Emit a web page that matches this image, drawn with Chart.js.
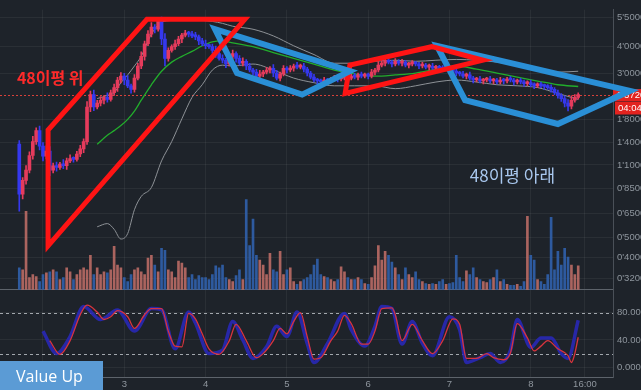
<!DOCTYPE html>
<html>
<head>
<meta charset="utf-8">
<title>48 MA chart</title>
<script src="https://cdn.jsdelivr.net/npm/chart.js"></script>
<style>
  html, body { margin: 0; padding: 0; background: #1e232a; }
  #wrap { width: 641px; height: 390px; }
</style>
</head>
<body>
<div id="wrap"><canvas id="chart" width="641" height="390"></canvas></div>
<script>
// hourly candles, index 0 = day 1 17:00
const xTickIdx = [7, 31, 55, 79, 103, 127, 151, 167];
const xTickLabels = ['2', '3', '4', '5', '6', '7', '8', '16:00'];
const xRange = [-5.69, 175.27];

const firstOpen = 1.38;
const closes = [
  0.80, 0.93, 1.04, 1.22, 1.42, 1.60, 1.35, 1.21, 1.28, 1.04,
  1.09, 1.07, 1.11, 1.09, 1.15, 1.18, 1.17, 1.24, 1.31, 1.42,
  2.07, 2.37, 2.07, 2.16, 2.23, 2.30, 2.25, 2.42, 2.56, 2.78,
  2.90, 2.78, 2.61, 2.51, 2.84, 3.24, 3.60, 4.13, 4.59, 4.95,
  4.84, 5.27, 4.35, 3.52, 3.84, 4.00, 4.13, 4.35, 4.54, 4.64,
  4.59, 4.50, 4.45, 4.26, 4.13, 4.04, 4.00, 3.84, 3.71, 3.52,
  3.45, 3.31, 3.60, 3.71, 3.52, 3.34, 3.41, 3.24, 3.10, 3.03,
  2.90, 2.97, 3.03, 3.10, 3.16, 3.00, 2.84, 2.97, 3.16, 3.10,
  3.16, 3.24, 3.20, 3.24, 3.13, 3.00, 2.87, 2.78, 2.75, 2.72,
  2.78, 2.75, 2.81, 2.84, 2.81, 2.84, 2.87, 2.84, 2.90, 2.87,
  2.94, 2.90, 2.94, 2.90, 3.03, 3.10, 3.27, 3.34, 3.45, 3.38,
  3.31, 3.41, 3.34, 3.38, 3.27, 3.31, 3.34, 3.31, 3.24, 3.27,
  3.20, 3.24, 3.16, 3.20, 3.16, 3.13, 3.16, 3.10, 3.06, 3.00,
  2.97, 2.90, 2.94, 2.84, 2.78, 2.81, 2.75, 2.78, 2.81, 2.75,
  2.78, 2.72, 2.78, 2.75, 2.81, 2.78, 2.72, 2.75, 2.72, 2.67,
  2.70, 2.64, 2.61, 2.64, 2.61, 2.59, 2.56, 2.51, 2.42, 2.35,
  2.27, 2.16, 2.09, 2.23, 2.30, 2.372
];
// wick length above / below the body, in percent
const wickHi = [
  4, 3, 5, 4, 6, 3, 5, 4, 6, 5,
  3, 4, 2, 5, 3, 4, 2, 3, 4, 3,
  6, 4, 5, 3, 4, 2, 5, 3, 4, 3,
  4, 3, 5, 2, 4, 3, 5, 3, 4, 5,
  3, 4, 5, 6, 3, 2, 4, 3, 2, 3,
  2, 3, 4, 2, 3, 4, 2, 3, 5, 3,
  4, 2, 3, 4, 2, 3, 4, 2, 3, 2,
  3, 4, 2, 3, 2, 4, 3, 2, 3, 2,
  3, 2, 4, 2, 3, 2, 2, 3, 2, 2,
  3, 2, 2, 3, 2, 2, 3, 2, 2, 3,
  2, 3, 2, 2, 3, 2, 4, 3, 2, 3,
  2, 3, 2, 3, 2, 2, 3, 2, 2, 3,
  2, 2, 3, 2, 2, 3, 2, 2, 3, 2,
  2, 3, 2, 3, 2, 2, 3, 2, 2, 3,
  2, 2, 3, 2, 2, 3, 2, 2, 3, 2,
  2, 3, 2, 2, 3, 2, 2, 3, 2, 3,
  2, 3, 4, 5, 3, 2
];
const wickLo = [
  17, 5, 4, 3, 4, 3, 4, 5, 3, 6,
  3, 4, 2, 3, 4, 2, 3, 2, 3, 4,
  3, 5, 4, 2, 3, 4, 3, 2, 3, 4,
  3, 5, 2, 4, 3, 2, 3, 4, 2, 3,
  4, 2, 6, 8, 3, 2, 3, 2, 4, 2,
  3, 2, 3, 4, 2, 3, 2, 3, 4, 2,
  3, 4, 2, 3, 4, 2, 3, 4, 2, 3,
  4, 2, 3, 2, 3, 4, 2, 3, 2, 3,
  2, 3, 2, 2, 3, 3, 2, 2, 3, 2,
  2, 3, 2, 2, 3, 2, 2, 3, 2, 2,
  3, 2, 2, 3, 2, 3, 2, 2, 3, 2,
  3, 2, 2, 3, 2, 3, 2, 2, 3, 2,
  2, 3, 2, 2, 3, 2, 2, 3, 2, 3,
  2, 2, 3, 2, 3, 2, 2, 3, 2, 2,
  3, 2, 2, 3, 2, 2, 3, 2, 2, 3,
  2, 2, 3, 2, 2, 3, 2, 3, 2, 3,
  3, 4, 5, 3, 2, 2
];
const volumes = [
  22, 20, 80, 12, 15, 13, 8, 15, 17, 18,
  20, 18, 10, 12, 22, 18, 10, 15, 20, 22,
  20, 35, 15, 22, 15, 18, 17, 20, 44, 25,
  22, 12, 8, 15, 20, 22, 18, 15, 32, 35,
  25, 18, 42, 40, 20, 18, 12, 29, 27, 22,
  12, 15, 10, 14, 12, 12, 10, 15, 24, 22,
  25, 12, 10, 8, 14, 20, 10, 92, 45, 72,
  35, 30, 25, 15, 37, 20, 18, 39, 15, 20,
  22, 8, 5, 8, 10, 12, 15, 25, 31, 15,
  13, 12, 10, 8, 10, 23, 18, 12, 10, 10,
  12, 10, 6, 5, 12, 24, 45, 30, 39, 35,
  28, 22, 15, 10, 22, 15, 12, 18, 10, 8,
  6, 5, 6, 5, 8, 10, 5, 6, 7, 35,
  12, 8, 19, 15, 22, 12, 10, 8, 7, 10,
  12, 20, 8, 10, 5, 4, 4, 5, 3, 8,
  75, 35, 30, 10, 8, 5, 15, 74, 20, 39,
  25, 42, 33, 25, 15, 24
];

// 48 moving average and its bands, read at these candles
const bandIdx = [23, 26, 28, 30, 32, 34, 36, 39, 42, 45, 48, 51, 54, 57, 60, 63, 69, 75, 81, 87, 93, 99, 105, 111, 117, 123, 129, 135, 141, 147, 153, 159, 165];
const ma48 = [1.38, 1.52, 1.60, 1.69, 1.81, 1.98, 2.23, 2.64, 3.06, 3.38, 3.60, 3.80, 4.04, 4.22, 4.26, 4.17, 4.00, 3.75, 3.52, 3.31, 3.10, 2.97, 2.90, 2.94, 3.00, 3.13, 3.24, 3.13, 3.00, 2.87, 2.75, 2.64, 2.59];
const bandUpper = [2.27, 2.35, 2.42, 2.70, 2.94, 3.24, 3.60, 4.59, 5.22, 5.33, 5.39, 5.39, 5.33, 5.27, 5.16, 5.00, 4.84, 4.50, 4.04, 3.67, 3.34, 3.34, 3.41, 3.45, 3.41, 3.45, 3.48, 3.45, 3.38, 3.27, 3.16, 3.03, 3.06];
const bandLower = [0.56, 0.58, 0.545, 0.49, 0.52, 0.675, 0.78, 0.86, 1.15, 1.42, 1.82, 2.30, 2.64, 3.10, 3.27, 3.24, 3.31, 3.10, 2.84, 2.70, 2.61, 2.61, 2.61, 2.53, 2.61, 2.72, 2.78, 2.72, 2.64, 2.61, 2.56, 2.40, 2.25];

// stochastic
const kIdx = [7, 11, 15, 19, 24, 29, 34, 39, 42, 46, 50, 52, 56, 60, 63, 66, 69, 73, 76, 79, 82, 85, 87, 91, 96, 98, 102, 105, 107, 110, 113, 116, 119, 122, 127, 130, 132, 136, 139, 142, 145, 147, 151, 154, 157, 160, 162, 165];
const kVals = [53, 20, 45, 89, 70, 84, 53, 86, 84, 27, 81, 65, 20, 25, 67, 40, 13, 30, 60, 45, 81, 35, 7, 35, 79, 55, 31, 60, 89, 86, 34, 67, 35, 17, 74, 55, 7, 14, 20, 7, 25, 70, 29, 43, 43, 20, 13, 69];
const dIdx = [9, 12, 15, 18, 20, 23, 25, 27, 29, 32, 34, 37, 39, 42, 44, 46, 48, 50, 52, 54, 56, 59, 62, 64, 67, 70, 72, 75, 77, 79, 81, 83, 85, 87, 89, 92, 94, 96, 98, 101, 103, 105, 107, 110, 111, 113, 116, 119, 122, 125, 128, 130, 132, 135, 138, 140, 143, 145, 147, 150, 152, 154, 156, 159, 162, 163, 164, 165];
const dVals = [39, 19, 39, 77, 91, 81, 70, 74, 83, 74, 57, 77, 86, 86, 53, 31, 30, 79, 71, 49, 27, 19, 39, 63, 39, 14, 20, 39, 57, 49, 67, 80, 45, 12, 14, 39, 53, 76, 64, 34, 34, 53, 86, 87, 77, 39, 63, 39, 20, 39, 71, 63, 13, 13, 20, 14, 11, 21, 64, 43, 24, 31, 39, 27, 17, 7, 20, 44];
const oscLevels = [80, 20];

const priceTicks = [5.5, 4, 3, 1.8, 1.4, 1.1, 0.85, 0.65, 0.5, 0.4, 0.32];
const priceTickLabels = ["5'5000", "4'0000", "3'0000", "1'8000", "1'4000", "1'1000", "0'8500", "0'6500", "0'5000", "0'4000", "0'3200"];
const oscTicks = [0, 40, 80];
const oscTickLabels = ['0.0000', '40.0000', '80.0000'];
const lastPrice = 2.372;
const lastPriceLabel = "2'3720";
const timerLabel = '04:04';

// hand drawn zones: [candle index, price]
const redZone1 = [[8.5, 1.61], [37.7, 5.39], [66.6, 5.39], [8.5, 0.455], [8.5, 1.61], [37.7, 5.39]];
const blueZone1 = [[57.8, 4.84], [64.3, 3.00], [83.5, 2.37], [97.6, 3.06], [57.8, 4.84], [64.3, 3.00]];
const redZone2 = [[97.6, 3.27], [121.8, 4.00], [136.9, 3.45], [96.2, 2.40], [97.6, 3.27], [121.8, 4.00]];
const blueZone2 = [[123.3, 4.04], [131.6, 2.23], [159.0, 1.72], [180.3, 2.47], [123.3, 4.04], [131.6, 2.23]];
const notes = [
  { text: '48이평 위', x: -0.7, y: 2.84, color: '#ff2a2a', font: 'bold 16px "Noto Sans CJK KR"' },
  { text: '48이평 아래', x: 133, y: 0.98, color: '#a9c8ef', font: '17px "Noto Sans CJK KR"' }
];

const upColor = '#e63b5c';
const downColor = '#3538ee';
const gridColor = 'rgba(255,255,255,0.055)';
const borderColor = '#4a5058';
const tickColor = '#8f969e';
const tickFont = { family: '"Liberation Sans Narrow", "Liberation Sans", sans-serif', size: 9.5 };

const openOf = i => (i === 0 ? firstOpen : closes[i - 1]);
const isUp = i => closes[i] >= openOf(i);
const candleColor = c => (isUp(c.dataIndex) ? upColor : downColor);
const pts = (xs, ys) => xs.map((x, i) => ({ x: x, y: ys[i] }));
const zone = (z, color, width) => ({
  type: 'line',
  data: z.map(p => ({ x: p[0], y: p[1] })),
  borderColor: color,
  borderWidth: width,
  borderJoinStyle: 'miter',
  pointRadius: 0,
  tension: 0,
  fill: false,
  clip: false,
  order: 0
});
const bandLine = (ys, color, width, order) => ({
  type: 'line',
  data: pts(bandIdx, ys),
  borderColor: color,
  borderWidth: width,
  pointRadius: 0,
  cubicInterpolationMode: 'monotone',
  fill: false,
  order: order
});

const decor = {
  id: 'decor',
  beforeDatasetsDraw(chart) {
    const { ctx, chartArea: a, scales } = chart;
    const py = scales.y, oy = scales.yo;
    ctx.save();
    ctx.lineWidth = 1;
    ctx.strokeStyle = '#5d636b';
    const sep = Math.round(py.bottom) + 0.5;
    ctx.beginPath(); ctx.moveTo(a.left, sep); ctx.lineTo(a.right, sep); ctx.stroke();

    ctx.setLineDash([3, 3]);
    ctx.strokeStyle = '#a2a7ad';
    oscLevels.forEach(v => {
      const y = Math.round(oy.getPixelForValue(v)) + 0.5;
      ctx.beginPath(); ctx.moveTo(a.left, y); ctx.lineTo(a.right, y); ctx.stroke();
    });

    const ly = Math.round(py.getPixelForValue(lastPrice)) + 0.5;
    ctx.setLineDash([2, 2]);
    ctx.strokeStyle = '#d8403a';
    ctx.beginPath(); ctx.moveTo(a.left, ly); ctx.lineTo(a.right, ly); ctx.stroke();
    ctx.setLineDash([]);

    ctx.fillStyle = '#e3231f';
    ctx.fillRect(py.left, ly - 6.5, chart.width - py.left, 12);
    ctx.fillRect(py.left + 2, ly + 6, chart.width - py.left - 2, 13);
    ctx.fillStyle = '#ffffff';
    ctx.font = '9.5px "Liberation Sans Narrow", "Liberation Sans", sans-serif';
    ctx.textBaseline = 'middle';
    ctx.textAlign = 'left';
    ctx.fillText(lastPriceLabel, py.left + 4, ly);
    ctx.fillText(timerLabel, py.left + 5, ly + 12.5);
    ctx.restore();
  },
  afterDatasetsDraw(chart) {
    const { ctx, scales } = chart;
    ctx.save();
    ctx.textBaseline = 'middle';
    ctx.textAlign = 'left';
    notes.forEach(n => {
      ctx.font = n.font;
      ctx.fillStyle = n.color;
      ctx.fillText(n.text, scales.x.getPixelForValue(n.x), scales.y.getPixelForValue(n.y));
    });
    ctx.restore();
  },
  afterDraw(chart) {
    const ctx = chart.ctx;
    ctx.save();
    ctx.fillStyle = '#5b9bd5';
    ctx.fillRect(0, chart.height - 29, 103, 29);
    ctx.fillStyle = '#ffffff';
    ctx.font = '16px "Open Sans", sans-serif';
    ctx.textBaseline = 'middle';
    ctx.fillText('Value Up', 16, chart.height - 13);
    ctx.restore();
  }
};

new Chart(document.getElementById('chart').getContext('2d'), {
  type: 'bar',
  data: {
    datasets: [
      zone(redZone1, '#ff1414', 5),
      zone(blueZone1, '#2a8fd6', 6),
      zone(redZone2, '#ff1414', 5),
      zone(blueZone2, '#2a8fd6', 6),
      {
        type: 'line', yAxisID: 'yo', data: pts(dIdx, dVals),
        borderColor: '#d8343e', borderWidth: 1.3, pointRadius: 0,
        cubicInterpolationMode: 'monotone', fill: false, order: 1
      },
      {
        type: 'line', yAxisID: 'yo', data: pts(kIdx, kVals),
        borderColor: 'rgba(40,40,175,0.95)', borderWidth: 3.5, pointRadius: 0,
        cubicInterpolationMode: 'monotone', fill: false, order: 2
      },
      {
        type: 'bar', yAxisID: 'y',
        data: closes.map((c, i) => ({ x: i, y: [openOf(i), c] })),
        backgroundColor: candleColor,
        barThickness: 3, minBarLength: 2, grouped: false, borderWidth: 0, order: 3
      },
      {
        type: 'bar', yAxisID: 'y',
        data: closes.map((c, i) => ({
          x: i,
          y: [Math.min(openOf(i), c) * (1 - wickLo[i] / 100), Math.max(openOf(i), c) * (1 + wickHi[i] / 100)]
        })),
        backgroundColor: candleColor,
        barThickness: 1, grouped: false, borderWidth: 0, order: 4
      },
      bandLine(ma48, '#22ad2c', 1.3, 5),
      bandLine(bandUpper, '#8e9297', 1, 6),
      bandLine(bandLower, '#8e9297', 1, 6),
      {
        type: 'bar', yAxisID: 'yv',
        data: volumes.map((v, i) => ({ x: i, y: v })),
        backgroundColor: c => (isUp(c.dataIndex) ? 'rgba(196,112,104,0.85)' : 'rgba(48,96,172,0.9)'),
        barThickness: 2, grouped: false, borderWidth: 0, order: 9
      }
    ]
  },
  options: {
    responsive: false,
    animation: false,
    events: [],
    layout: { padding: 0, autoPadding: false },
    plugins: { legend: { display: false }, tooltip: { enabled: false } },
    scales: {
      x: {
        type: 'linear', position: 'bottom', min: xRange[0], max: xRange[1], offset: false,
        afterBuildTicks: s => { s.ticks = xTickIdx.map(v => ({ value: v })); },
        afterFit: s => { s.height = 13; },
        ticks: { callback: (v, i) => xTickLabels[i], color: tickColor, font: tickFont, padding: 2, maxRotation: 0, autoSkip: false },
        grid: { color: gridColor, drawTicks: false, offset: false },
        border: { display: true, color: '#5d636b' }
      },
      y: {
        type: 'logarithmic', position: 'right', stack: 'panels', stackWeight: 287, weight: 1,
        min: 0.283, max: 5.99,
        afterBuildTicks: s => { s.ticks = priceTicks.map(v => ({ value: v })); },
        afterFit: s => { s.width = 28; },
        ticks: { callback: (v, i) => priceTickLabels[i], color: tickColor, font: tickFont, padding: 4, autoSkip: false },
        grid: { color: gridColor, drawTicks: false },
        border: { display: true, color: borderColor }
      },
      yo: {
        type: 'linear', position: 'right', stack: 'panels', stackWeight: 90, weight: 2,
        min: -14.3, max: 114.3,
        afterBuildTicks: s => { s.ticks = oscTicks.map(v => ({ value: v })); },
        afterFit: s => { s.width = 28; },
        ticks: { callback: (v, i) => oscTickLabels[i], color: tickColor, font: tickFont, padding: 4, autoSkip: false },
        grid: { color: gridColor, drawTicks: false },
        border: { display: true, color: borderColor }
      },
      yv: { type: 'linear', position: 'left', display: false, min: -90, max: 287 }
    }
  },
  plugins: [decor]
});
</script>
</body>
</html>
